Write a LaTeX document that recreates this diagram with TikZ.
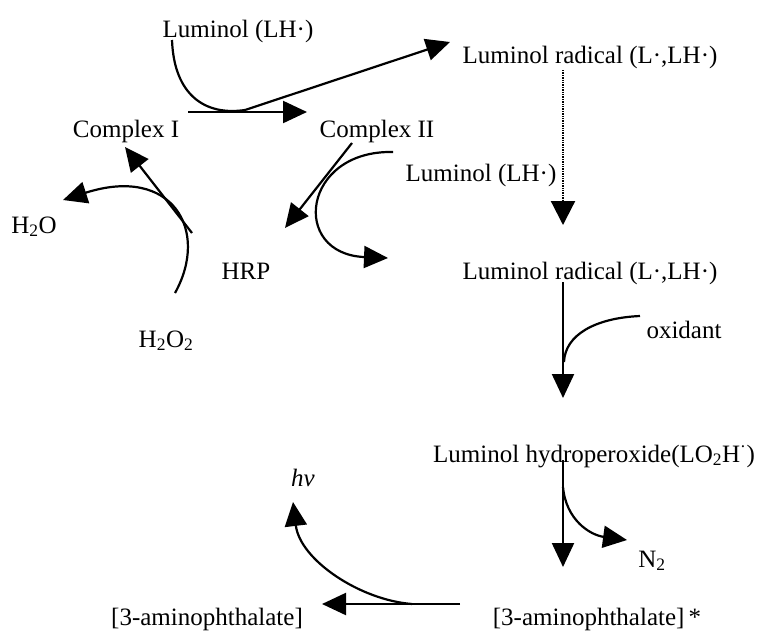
\documentclass[tikz,border=0pt]{standalone}
\usepackage{fontspec}
\setmainfont{Liberation Serif}
\usetikzlibrary{arrows.meta}
\begin{document}
\begin{tikzpicture}[x=1pt,y=-1pt,
  lbl/.style={anchor=base,inner sep=0pt,font=\fontsize{25}{30}\selectfont},
  conn/.style={line width=2.2pt},
  arr/.style={conn,-{Triangle[length=24pt,width=22pt]}},
  dotarr/.style={line width=2.2pt,dash pattern=on 1.4pt off 1pt,-{Triangle[length=24pt,width=24pt]}},
]
\useasboundingbox (0,0) rectangle (762,635);
% labels
\node[lbl] (lum1) at (238,37) {Luminol (LH·)};
\node[lbl] (cI)   at (126,137) {Complex I};
\node[lbl] (cII)  at (377,137) {Complex II};
\node[lbl] (rad1) at (590,63) {Luminol radical (L·,LH·)};
\node[lbl] (lum2) at (481,181) {Luminol (LH·)};
\node[lbl] (h2o)  at (34,233) {H\textsubscript{2}O};
\node[lbl] (hrp)  at (246,279) {HRP};
\node[lbl] (rad2) at (590,279) {Luminol radical (L·,LH·)};
\node[lbl] (h2o2) at (166,347) {H\textsubscript{2}O\textsubscript{2}};
\node[lbl] (ox)   at (684,338) {oxidant};
\node[lbl] (hyd)  at (594,462) {Luminol hydroperoxide(LO\textsubscript{2}H\textsuperscript{·})};
\node[lbl] (n2)   at (652,567) {N\textsubscript{2}};
\node[lbl] (hv)   at (303,486) {\textit{hν}};
\node[lbl] (ap)   at (207,625) {[3-aminophthalate]};
\node[lbl] (aps)  at (597,625) {[3-aminophthalate]\,*};
% coordinates
\coordinate (a1) at (172,40);
\coordinate (a2) at (245,110);
\coordinate (a3) at (450,42);
\coordinate (b1) at (188,112);
\coordinate (b2) at (307,112);
\coordinate (c1) at (192,233);
\coordinate (c2) at (125,147);
\coordinate (d1) at (175,293);
\coordinate (d2) at (63,200);
\coordinate (e1) at (352,143);
\coordinate (e2) at (285,228);
\coordinate (f1) at (393,152);
\coordinate (f2) at (388,258);
\coordinate (g1) at (563,70);
\coordinate (g2) at (563,225);
\coordinate (h1) at (563,282);
\coordinate (h2) at (563,398);
\coordinate (i1) at (640,316);
\coordinate (i2) at (564,362);
\coordinate (j1) at (563,460);
\coordinate (j2) at (563,567);
\coordinate (k1) at (563,487);
\coordinate (k2) at (627,540);
\coordinate (l1) at (460,604);
\coordinate (l2) at (322,604);
\coordinate (m1) at (412,604);
\coordinate (m2) at (293,502);
% connectors
\draw[arr] (a1) .. controls (174,95) and (205,116) .. (a2) -- (a3);
\draw[arr] (b1) -- (b2);
\draw[arr] (c1) -- (c2);
\draw[arr] (d1) .. controls (210,230) and (172,165) .. (d2);
\draw[arr] (e1) -- (e2);
\draw[arr] (f1) .. controls (302,150) and (290,254) .. (f2);
\draw[dotarr] (g1) -- (g2);
\draw[arr] (h1) -- (h2);
\draw[conn] (i1) .. controls (595,318) and (565,335) .. (i2);
\draw[arr] (j1) -- (j2);
\draw[arr] (k1) .. controls (566,520) and (590,535) .. (k2);
\draw[arr] (l1) -- (l2);
\draw[arr] (m1) .. controls (360,600) and (300,560) .. (m2);
\end{tikzpicture}
\end{document}
